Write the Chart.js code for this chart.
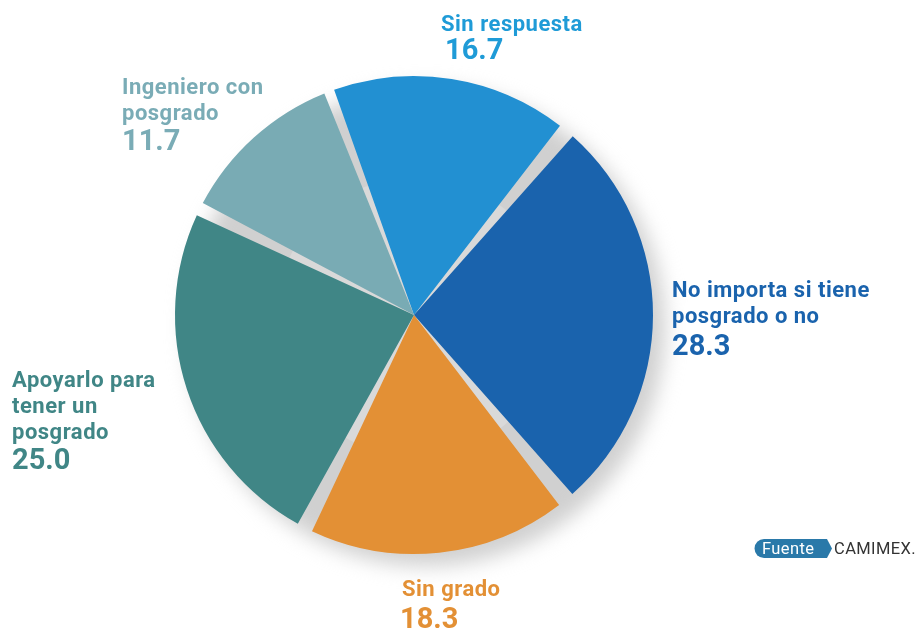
<!DOCTYPE html>
<html>
<head>
<meta charset="utf-8">
<script src="https://cdn.jsdelivr.net/npm/chart.js@4.4.0/dist/chart.umd.min.js"></script>
<style>
  html, body { margin: 0; padding: 0; background: #fff; }
  #wrap { width: 915px; height: 630px; position: relative; }
</style>
</head>
<body>
<div id="wrap"><canvas id="pieChart" width="915" height="630"></canvas></div>
<script>
// categories and values, clockwise from the top
const categories = ["Sin respuesta", "No importa si tiene posgrado o no", "Sin grado", "Apoyarlo para tener un posgrado", "Ingeniero con posgrado"];
const shares = [16.7, 28.3, 18.3, 25.0, 11.7];
const sliceColors = ["#2290d2", "#1a63ad", "#e39035", "#408686", "#79abb4"];
const labelColors = ["#1f9bd7", "#1a63ad", "#e39035", "#408686", "#7aacb6"];

// label text lines (wrapped as in the original)
const labelLines = [
  ["Sin respuesta"],
  ["No importa si tiene", "posgrado o no"],
  ["Sin grado"],
  ["Apoyarlo para", "tener un", "posgrado"],
  ["Ingeniero con", "posgrado"]
];

const sourceLabel = "Fuente";
const sourceText = "CAMIMEX.";

// label block placement: x, first baseline, value x, gap to value baseline
const labelPos = [
  { x: 441, y: 31, vx: 445, gap: 28 },
  { x: 672, y: 297, vx: 672, gap: 32 },
  { x: 402, y: 596, vx: 400, gap: 32 },
  { x: 12, y: 387, vx: 12, gap: 30 },
  { x: 122, y: 94, vx: 122, gap: 30 }
];

const shadowDisc = {
  id: "shadowDisc",
  beforeDatasetsDraw(chart) {
    const arc = chart.getDatasetMeta(0).data[0];
    if (!arc) return;
    const ctx = chart.ctx;
    const r = arc.outerRadius;
    ctx.save();
    ctx.filter = "blur(10px)";
    ctx.fillStyle = "#d0d0d0";
    ctx.beginPath();
    ctx.arc(arc.x + 12, arc.y + 12, r + 6, 0, Math.PI * 2);
    ctx.fill();
    ctx.restore();
    ctx.save();
    ctx.fillStyle = "#d9d9d9";
    ctx.beginPath();
    ctx.arc(arc.x + 2, arc.y + 2, r * 0.6, 0, Math.PI * 2);
    ctx.fill();
    ctx.restore();
  }
};

const outsideLabels = {
  id: "outsideLabels",
  afterDraw(chart) {
    const ctx = chart.ctx;
    ctx.save();
    ctx.textBaseline = "alphabetic";
    ctx.textAlign = "left";
    categories.forEach((cat, i) => {
      const p = labelPos[i];
      ctx.fillStyle = labelColors[i];
      ctx.font = "bold 22px Roboto";
      ctx.letterSpacing = "0.5px";
      let y = p.y;
      labelLines[i].forEach((line, k) => {
        if (k > 0) y += 26;
        ctx.fillText(line, p.x, y);
      });
      ctx.font = "bold 29px Roboto";
      ctx.letterSpacing = "0px";
      ctx.fillText(shares[i].toFixed(1), p.vx, y + p.gap);
    });

    // source badge
    const bx = 755, by = 539, bw = 72, bh = 19;
    ctx.fillStyle = "#2a79a9";
    ctx.beginPath();
    ctx.moveTo(bx + 9, by);
    ctx.lineTo(bx + bw, by);
    ctx.lineTo(bx + bw + 5, by + bh / 2);
    ctx.lineTo(bx + bw, by + bh);
    ctx.lineTo(bx + 9, by + bh);
    ctx.arc(bx + 9, by + bh / 2, bh / 2, Math.PI / 2, Math.PI * 1.5);
    ctx.closePath();
    ctx.fill();
    ctx.font = "16.5px Roboto";
    ctx.letterSpacing = "0.4px";
    ctx.textBaseline = "middle";
    ctx.fillStyle = "#ffffff";
    ctx.fillText(sourceLabel, bx + 7, by + bh / 2 + 1);
    ctx.fillStyle = "#333333";
    ctx.fillText(sourceText, bx + bw + 7, by + bh / 2 + 1);
    ctx.restore();
  }
};

const ctx = document.getElementById("pieChart").getContext("2d");

new Chart(ctx, {
  type: "pie",
  data: {
    labels: categories,
    datasets: [{
      data: shares,
      backgroundColor: sliceColors,
      borderWidth: 0,
      spacing: 12
    }]
  },
  options: {
    responsive: false,
    animation: false,
    rotation: -21,
    layout: {
      padding: { left: 100, right: 187, top: 76, bottom: 76 }
    },
    plugins: {
      legend: { display: false },
      tooltip: { enabled: false }
    }
  },
  plugins: [shadowDisc, outsideLabels]
});
</script>
</body>
</html>
